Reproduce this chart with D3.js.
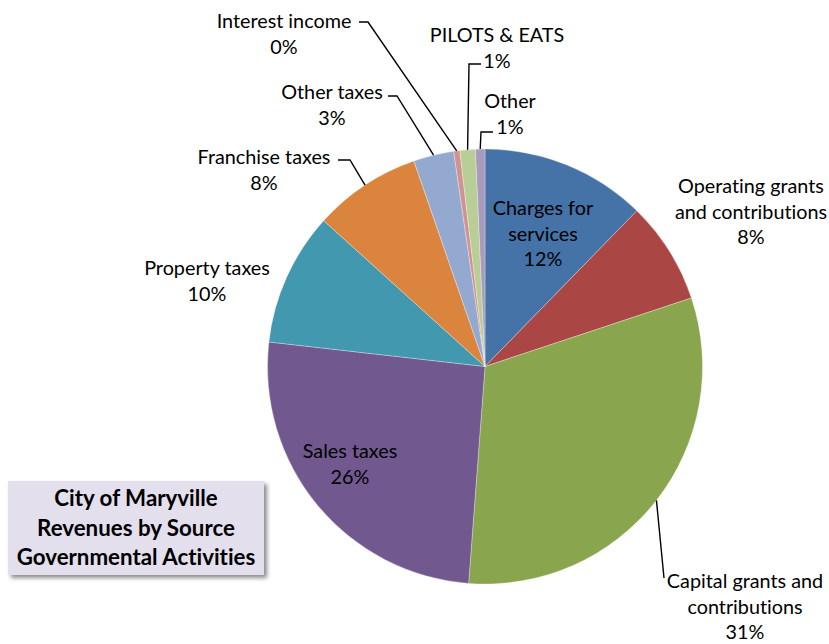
<!DOCTYPE html>
<html>
<head>
<meta charset="utf-8">
<script src="https://cdnjs.cloudflare.com/ajax/libs/d3/7.8.5/d3.min.js"></script>
<style>
  html, body { margin: 0; padding: 0; background: #fff; }
  svg { display: block; }
  text { font-variant-ligatures: none; font-feature-settings: "liga" 0, "clig" 0; }
</style>
</head>
<body>
<svg id="chart" width="829" height="644"></svg>
<script>
// ---- data ----
const categories = [
  "Charges for services",
  "Operating grants and contributions",
  "Capital grants and contributions",
  "Sales taxes",
  "Property taxes",
  "Franchise taxes",
  "Other taxes",
  "Interest income",
  "PILOTS & EATS",
  "Other"
];
const values = [12.3, 7.6, 31.3, 25.6, 9.9, 8.0, 3.0, 0.45, 1.15, 0.7];
const colors = ["#4572A7", "#AA4643", "#89A54E", "#71588F", "#4198AF",
                "#DB843D", "#93A9CF", "#D19392", "#B9CD96", "#A99BBD"];
const titleLines = ["City of Maryville", "Revenues by Source", "Governmental Activities"];

// ---- label layout (positions only) ----
const labelLayout = [
  { lines: ["Charges for", "services"], x: 543, y: 208 },
  { lines: ["Operating grants", "and contributions"], x: 751, y: 186 },
  { lines: ["Capital grants and", "contributions"], x: 745, y: 581, leader: [[664, 578]] },
  { lines: ["Sales taxes"], x: 350, y: 451 },
  { lines: ["Property taxes"], x: 207, y: 268 },
  { lines: ["Franchise taxes"], x: 264, y: 157, leader: [[338, 160], [350, 160]] },
  { lines: ["Other taxes"], x: 332, y: 92, leader: [[388, 96], [397, 96]] },
  { lines: ["Interest income"], x: 284, y: 21, leader: [[359, 22], [368, 22]] },
  { lines: ["PILOTS & EATS"], x: 497, y: 35, leader: [[481, 64], [469, 64]] },
  { lines: ["Other"], x: 510, y: 101, leader: [[493, 132], [481, 132]] }
];

const svg = d3.select("#chart");
const cx = 485, cy = 366.5, R = 217.5;
const fontFam = "Lato, 'Open Sans', sans-serif";

const data = categories.map((c, i) => ({ name: c, value: values[i], color: colors[i], i }));
const total = d3.sum(values);

const pie = d3.pie().value(d => d.value).sort(null);
const arcs = pie(data);
const arc = d3.arc().innerRadius(0).outerRadius(R);

const g = svg.append("g").attr("transform", `translate(${cx},${cy})`);
g.selectAll("path.slice").data(arcs).join("path")
  .attr("class", "slice")
  .attr("d", arc)
  .attr("fill", d => d.data.color)
  .attr("stroke", "rgba(255,255,255,0.5)")
  .attr("stroke-width", 0.6);

// leader lines
const pctFmt = v => Math.round(v / total * 100) + "%";
arcs.forEach((a, i) => {
  const L = labelLayout[i];
  if (!L.leader) return;
  const mid = (a.startAngle + a.endAngle) / 2;
  const px = cx + R * Math.sin(mid), py = cy - R * Math.cos(mid);
  const pts = L.leader.concat([[px, py]]);
  svg.append("path")
    .attr("d", d3.line()(pts))
    .attr("fill", "none")
    .attr("stroke", "#000")
    .attr("stroke-width", 1.4);
});

// labels
arcs.forEach((a, i) => {
  const L = labelLayout[i];
  const lines = L.lines.concat([pctFmt(a.data.value)]);
  const t = svg.append("text")
    .attr("text-anchor", "middle")
    .attr("font-family", fontFam)
    .attr("font-size", 19.8)
    .attr("fill", "#000");
  lines.forEach((ln, k) => {
    t.append("tspan").attr("x", L.x).attr("y", L.y + k * 25.5 + 7).text(ln);
  });
});

// title box
const bx = 8, by = 481, bw = 256, bh = 94;
const defs = svg.append("defs");
const f = defs.append("filter").attr("id", "shadow").attr("x", "-10%").attr("y", "-10%").attr("width", "130%").attr("height", "130%");
f.append("feDropShadow").attr("dx", 3).attr("dy", 3).attr("stdDeviation", 2.2).attr("flood-color", "#000").attr("flood-opacity", 0.45);
svg.append("rect").attr("x", bx).attr("y", by).attr("width", bw).attr("height", bh)
  .attr("fill", "#E4DFEC").attr("filter", "url(#shadow)");
const tt = svg.append("text").attr("text-anchor", "middle")
  .attr("font-family", fontFam).attr("font-weight", "bold").attr("font-size", 22.3).attr("fill", "#000");
titleLines.forEach((ln, k) => {
  tt.append("tspan").attr("x", bx + bw / 2).attr("y", 506 + k * 29.5).text(ln);
});
</script>
</body>
</html>
